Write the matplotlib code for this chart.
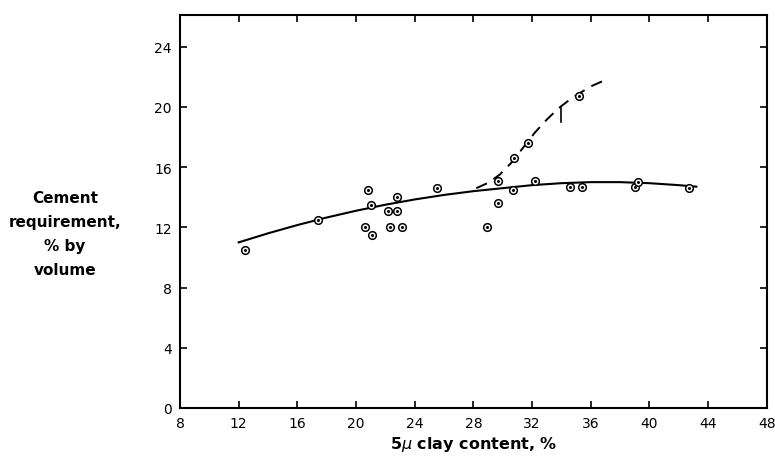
import matplotlib
matplotlib.use('Agg')
import matplotlib.pyplot as plt

# measured points (5 micron clay content %, cement requirement % by volume)
clay = [12.4, 17.4, 20.8, 21.0, 20.6, 21.1, 22.2, 22.8, 22.8, 22.3, 23.1, 25.5,
        28.95, 29.7, 29.7, 30.7, 30.8, 31.7, 32.2, 34.6, 35.4, 35.2, 39.0, 39.2, 42.7]
cement = [10.5, 12.5, 14.5, 13.5, 12.0, 11.5, 13.1, 13.1, 14.0, 12.05, 12.0, 14.6,
          12.05, 13.6, 15.1, 14.5, 16.6, 17.6, 15.1, 14.65, 14.7, 20.7, 14.7, 15.0, 14.6]

# hand-drawn trend (solid) and upper branch (dashed)
solid_x = [12, 14, 16, 18, 20, 22, 24, 26, 28, 30, 32, 34, 36, 38, 40, 42, 43.2]
solid_y = [11.0, 11.6, 12.15, 12.65, 13.1, 13.5, 13.85, 14.15, 14.4, 14.6, 14.8, 14.93, 15.0, 15.0, 14.93, 14.8, 14.7]
dash_x = [28.2, 29.0, 29.8, 30.6, 31.4, 32.2, 33.0, 33.8, 34.6, 35.4, 36.1, 36.8]
dash_y = [14.6, 14.95, 15.5, 16.3, 17.3, 18.3, 19.15, 19.9, 20.5, 21.0, 21.4, 21.7]

xticks = [8, 12, 16, 20, 24, 28, 32, 36, 40, 44, 48]
yticks = [0, 4, 8, 12, 16, 20, 24]

fig = plt.figure(figsize=(7.75, 4.6), dpi=100)
ax = fig.add_axes([0.2323, 0.1109, 0.757, 0.8543])

ax.plot(solid_x, solid_y, color='black', lw=1.5)
ax.plot(dash_x, dash_y, color='black', lw=1.4, dashes=(6, 4))
ax.plot([34.0, 34.0], [19.0, 19.9], color='black', lw=1.2)
ax.plot(clay, cement, 'o', ms=5.5, mfc='white', mec='black', mew=1.1, ls='none')
ax.plot(clay, cement, 'o', ms=1.2, color='black', ls='none')

ax.set_xlim(8, 48)
ax.set_ylim(0, 26.1)
ax.set_xticks(xticks)
ax.set_yticks(yticks)
ax.tick_params(direction='in', length=5, width=1.2, top=True, right=True,
               labelsize=10, pad=6)
for sp in ax.spines.values():
    sp.set_linewidth(1.5)

ax.set_xlabel('5$\\mu$ clay content, %', fontsize=11.5, fontweight='bold', labelpad=3)
fig.text(0.084, 0.49, 'Cement\nrequirement,\n% by\nvolume', ha='center', va='center',
         fontsize=11, fontweight='bold', linespacing=1.75)

fig.savefig('out.png', dpi=100)
